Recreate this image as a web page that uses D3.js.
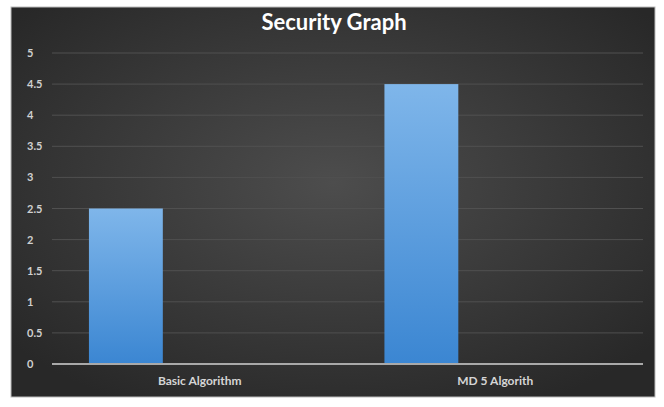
<!DOCTYPE html>
<html><head><meta charset="utf-8">
<script src="https://cdn.jsdelivr.net/npm/d3@7"></script>
<style>body{margin:0;background:#fff;}svg{display:block;}</style>
</head><body>
<script>
const categories = ["Basic Algorithm", "MD 5 Algorith"];
const seriesNames = ["Series 1", "Series 2", "Series 3"];
const series1 = [2.5, 4.5];
const series2 = [0, 0];
const series3 = [0, 0];
const yTicks = [0, 0.5, 1, 1.5, 2, 2.5, 3, 3.5, 4, 4.5, 5];
const title = "Security Graph";

const W = 664, H = 407;
const svg = d3.select("body").append("svg").attr("width", W).attr("height", H);
const defs = svg.append("defs");
const rg = defs.append("radialGradient").attr("id","bg").attr("cx","50%").attr("cy","45%").attr("r","65%");
rg.append("stop").attr("offset","0%").attr("stop-color","#4d4d4d");
rg.append("stop").attr("offset","100%").attr("stop-color","#282828");
const bg = defs.append("linearGradient").attr("id","bar").attr("x1",0).attr("y1",0).attr("x2",0).attr("y2",1);
bg.append("stop").attr("offset","0%").attr("stop-color","#7fb6ea");
bg.append("stop").attr("offset","100%").attr("stop-color","#3b86d2");

svg.append("rect").attr("x",11).attr("y",7).attr("width",644).attr("height",390)
  .attr("fill","url(#bg)").attr("stroke","#bbb").attr("stroke-width",1);

svg.append("text").attr("x",334).attr("y",30).attr("text-anchor","middle")
  .attr("fill","#fff").attr("font-family","Lato, 'Open Sans', sans-serif").attr("font-weight","bold")
  .attr("font-size",22).text(title);

const x0 = d3.scaleBand().domain(categories).range([52, 643]).paddingInner(0).paddingOuter(0);
const x1 = d3.scaleBand().domain(seriesNames).range([0, x0.bandwidth()]).paddingOuter(0.5).paddingInner(0);
const y = d3.scaleLinear().domain([0, 5]).range([364, 53]);

const grid = svg.append("g");
grid.selectAll("line").data(yTicks.filter(d => d > 0)).join("line")
  .attr("x1", 52).attr("x2", 643).attr("y1", d => y(d)).attr("y2", d => y(d))
  .attr("stroke", "#505050").attr("stroke-width", 1);

const yAxis = d3.axisLeft(y).tickValues(yTicks).tickSize(0).tickPadding(0).tickFormat(d3.format("~g"));
const ya = svg.append("g").attr("transform","translate(27,0)").call(yAxis);
ya.select(".domain").remove();
ya.selectAll("text").attr("text-anchor","start").attr("fill","#d0d0d0").attr("font-family","Lato, 'Open Sans', sans-serif")
  .attr("font-weight","bold").attr("font-size",11);

const allSeries = [series1, series2, series3];
const groups = svg.append("g").selectAll("g").data(categories).join("g")
  .attr("transform", d => `translate(${x0(d)},0)`);
groups.selectAll("rect").data((c, i) => allSeries.map((s, k) => ({name: seriesNames[k], v: s[i]})))
  .join("rect")
  .attr("x", d => x1(d.name)).attr("width", x1.bandwidth())
  .attr("y", d => y(d.v)).attr("height", d => y(0) - y(d.v))
  .attr("fill", "url(#bar)");

svg.append("line").attr("x1",52).attr("x2",643).attr("y1",y(0)).attr("y2",y(0))
  .attr("stroke","#a9a9a9").attr("stroke-width",2);

const xAxis = d3.axisBottom(x0).tickSize(0).tickPadding(12);
const xa = svg.append("g").attr("transform",`translate(0,${y(0)})`).call(xAxis);
xa.select(".domain").remove();
xa.selectAll("text").attr("fill","#d5d5d5").attr("font-family","Lato, 'Open Sans', sans-serif")
  .attr("font-size",12).attr("font-weight","bold");
</script>
</body></html>
